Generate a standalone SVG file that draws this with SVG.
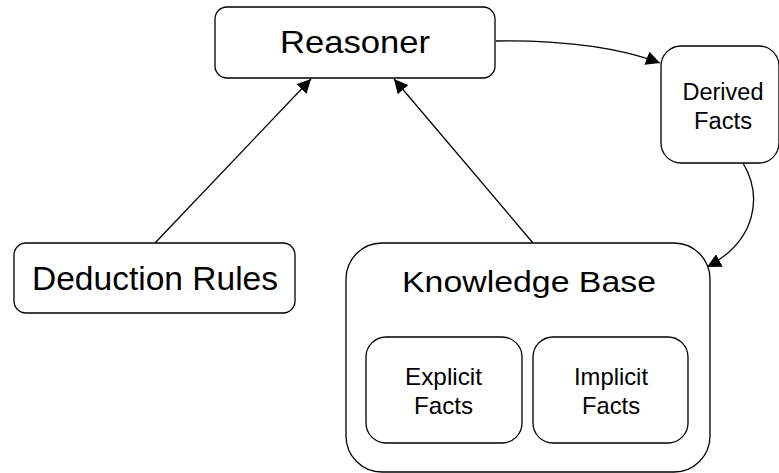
<svg xmlns="http://www.w3.org/2000/svg" width="779" height="473" viewBox="0 0 779 473">
  <style>
    .box { fill: #ffffff; stroke: #000000; stroke-width: 1.3; }
    .lbl { font-family: "Liberation Sans", Arial, sans-serif; fill: #000000; text-anchor: middle; }
    .edge { fill: none; stroke: #000000; stroke-width: 1.3; }
  </style>
  <defs>
    <marker id="arrow" viewBox="0 0 10 10" refX="10" refY="5" markerWidth="14" markerHeight="14" markerUnits="userSpaceOnUse" orient="auto">
      <path d="M0,0 L10,5 L0,10 z" fill="#000000"/>
    </marker>
  </defs>
  <rect width="779" height="473" fill="#ffffff"/>

  <g id="edges">
    <line class="edge" x1="155" y1="243" x2="311" y2="79" marker-end="url(#arrow)"/>
    <line class="edge" x1="533" y1="243" x2="394" y2="79" marker-end="url(#arrow)"/>
    <path class="edge" d="M496,41 C570,40 620,48 660,63" marker-end="url(#arrow)"/>
    <path class="edge" d="M743,163 C762,195 758,240 707,267" marker-end="url(#arrow)"/>
  </g>

  <g id="reasoner">
    <rect class="box" x="215" y="7" width="280" height="71" rx="12"/>
    <text class="lbl" x="355" y="53" font-size="32" textLength="150" lengthAdjust="spacingAndGlyphs">Reasoner</text>
  </g>

  <g id="derived-facts">
    <rect class="box" x="661" y="46" width="118" height="117" rx="20"/>
    <text class="lbl" x="723" y="100" font-size="23" textLength="81" lengthAdjust="spacingAndGlyphs">Derived</text>
    <text class="lbl" x="723" y="129" font-size="23" textLength="58" lengthAdjust="spacingAndGlyphs">Facts</text>
  </g>

  <g id="deduction-rules">
    <rect class="box" x="14" y="243" width="281" height="70" rx="12"/>
    <text class="lbl" x="155" y="290" font-size="34" textLength="246" lengthAdjust="spacingAndGlyphs">Deduction Rules</text>
  </g>

  <g id="knowledge-base">
    <rect class="box" x="346" y="243" width="364" height="229" rx="36"/>
    <text class="lbl" x="529" y="292" font-size="30" textLength="254" lengthAdjust="spacingAndGlyphs">Knowledge Base</text>
  </g>

  <g id="explicit-facts">
    <rect class="box" x="366" y="337" width="156" height="106" rx="20"/>
    <text class="lbl" x="443.5" y="385" font-size="24" textLength="77" lengthAdjust="spacingAndGlyphs">Explicit</text>
    <text class="lbl" x="443.5" y="414" font-size="24" textLength="59" lengthAdjust="spacingAndGlyphs">Facts</text>
  </g>

  <g id="implicit-facts">
    <rect class="box" x="533" y="337" width="155" height="106" rx="20"/>
    <text class="lbl" x="611" y="385" font-size="24" textLength="74" lengthAdjust="spacingAndGlyphs">Implicit</text>
    <text class="lbl" x="611" y="414" font-size="24" textLength="58" lengthAdjust="spacingAndGlyphs">Facts</text>
  </g>
</svg>
